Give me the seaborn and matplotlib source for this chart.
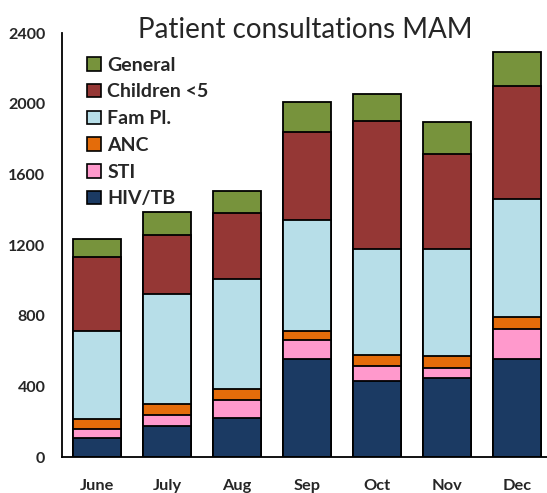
import numpy as np
import pandas as pd
import matplotlib
matplotlib.use("Agg")
import matplotlib.pyplot as plt
from matplotlib.patches import Patch
import seaborn as sns

# data (segment values, bottom to top)
months = ["June", "July", "Aug", "Sep", "Oct", "Nov", "Dec"]
hiv_tb = [108, 175, 221, 555, 430, 447, 555]
sti = [50, 63, 102, 107, 85, 57, 170]
anc = [57, 62, 62, 51, 62, 68, 67]
fam_pl = [498, 623, 623, 628, 600, 605, 668]
children = [419, 334, 373, 499, 725, 538, 640]
general = [102, 130, 125, 169, 153, 181, 192]

series = ["HIV/TB", "STI", "ANC", "Fam Pl.", "Children <5", "General"]
colors = ["#1B3A63", "#FF99CC", "#E46C0A", "#B7DEE8", "#953735", "#77933C"]

df = pd.DataFrame({
    "HIV/TB": hiv_tb, "STI": sti, "ANC": anc,
    "Fam Pl.": fam_pl, "Children <5": children, "General": general,
}, index=months)
cum = df.cumsum(axis=1)

sns.set_style("white")
plt.rcParams["font.family"] = ["Lato", "DejaVu Sans"]

fig = plt.figure(figsize=(5.47, 4.93), dpi=100)
ax = fig.add_axes([0.1133, 0.073, 0.896, 0.860])

# stacked bars: draw cumulative totals from the top layer down
for name, col in reversed(list(zip(series, colors))):
    sns.barplot(x=months, y=cum[name].values, order=months, color=col,
                saturation=1, width=0.69, edgecolor="black", linewidth=1.3, ax=ax)

ax.set_ylim(0, 2400)
ax.set_xlim(-0.5, 6.5)
ax.set_yticks([0, 400, 800, 1200, 1600, 2000, 2400])
ax.tick_params(axis="y", direction="out", length=4, width=1.2, labelsize=11.5, pad=8)
ax.tick_params(axis="x", which="major", length=0, labelsize=11.8, pad=16)
ax.set_xticks(np.arange(0.5, 6.5, 1), minor=True)
ax.tick_params(axis="x", which="minor", direction="out", length=5, width=1)
for lab in ax.get_xticklabels() + ax.get_yticklabels():
    lab.set_fontweight("bold")
ax.set_xlabel("")
ax.set_ylabel("")
for s in ["top", "right"]:
    ax.spines[s].set_visible(False)
for s in ["left", "bottom"]:
    ax.spines[s].set_color("black")
    ax.spines[s].set_linewidth(1.3)

handles = [Patch(facecolor=c, edgecolor="black", linewidth=1.2, label=n)
           for n, c in zip(series, colors)][::-1]
ax.legend(handles=handles, loc="upper left", bbox_to_anchor=(0.051, 0.944),
          frameon=False, borderpad=0, borderaxespad=0,
          handlelength=0.7, handleheight=0.7, handletextpad=0.35,
          labelspacing=0.5, prop={"weight": "bold", "size": 14})

fig.text(305 / 547, 1 - 30 / 493, "Patient consultations MAM", ha="center",
         va="center", fontsize=20)

fig.savefig("out.png", dpi=100)
